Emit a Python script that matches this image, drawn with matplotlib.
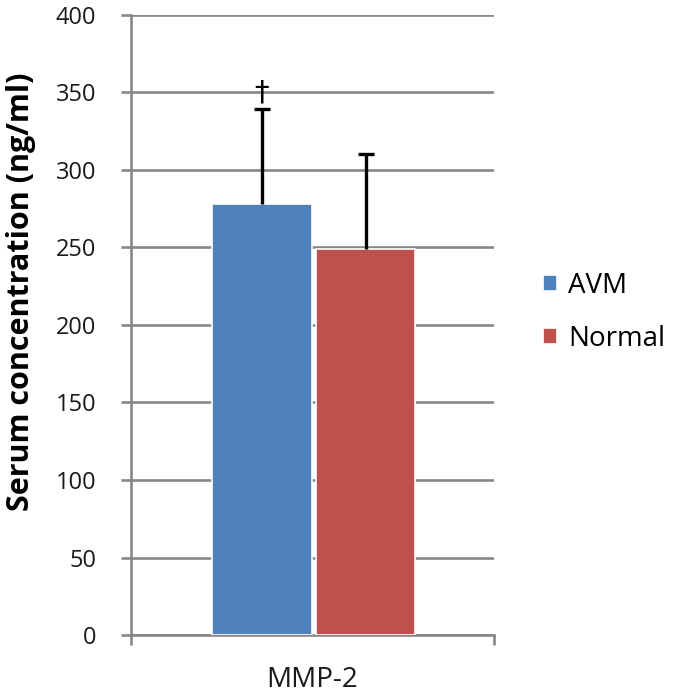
import matplotlib
matplotlib.use("Agg")
import matplotlib.pyplot as plt
import numpy as np

categories = ["MMP-2"]
series_names = ["AVM", "Normal"]
means = [278, 249]
errors = [61, 61]
colors = ["#4F81BD", "#C0504D"]
yticks = [0, 50, 100, 150, 200, 250, 300, 350, 400]
marker_symbol = "\u2020"

plt.rcParams['font.family'] = ['Open Sans', 'DejaVu Sans']

fig = plt.figure(figsize=(6.75, 6.96), dpi=100)
ax = fig.add_axes([0.194, 0.0876, 0.538, 0.891])

grid_c = "#878787"
offsets = [-0.14, 0.146]
width = 0.275
handles = []
for i, (name, m, e, c) in enumerate(zip(series_names, means, errors, colors)):
    b = ax.bar(offsets[i], m, width=width, color=c, edgecolor="white", linewidth=1.2,
               zorder=3, label=name)
    eb = ax.errorbar(offsets[i], m, yerr=[[0], [e]], fmt="none", ecolor="black",
                     elinewidth=2.4, capsize=5.5, capthick=2.4, zorder=4)
    for cap in eb[1]:
        if abs(float(np.asarray(cap.get_ydata())[0]) - m) < 1e-9:
            cap.set_visible(False)
    handles.append(b)

ax.text(offsets[0], means[0] + errors[0] + 11, marker_symbol, ha="center", va="center",
        fontsize=21, color="black", zorder=5, family="DejaVu Sans")

ax.set_ylim(0, 400)
ax.set_xlim(-0.5, 0.5)
ax.set_yticks(yticks)
ax.set_yticklabels([str(v) for v in yticks], fontsize=17, color="#1a1a1a")
ax.yaxis.grid(True, color=grid_c, linewidth=1.9, zorder=0)
ax.set_axisbelow(True)

ax.set_xticks([0])
ax.set_xticklabels(categories, fontsize=20, color="#1a1a1a")
ax.set_xticks([-0.5, 0.5], minor=True)
ax.tick_params(axis="x", which="major", length=0, pad=22)
ax.tick_params(axis="x", which="minor", length=7, width=1.9, color=grid_c, direction="out")
ax.tick_params(axis="y", length=7, width=1.9, color=grid_c, direction="out", pad=18)

for s in ["top", "right"]:
    ax.spines[s].set_visible(False)
ax.spines["left"].set_color(grid_c)
ax.spines["left"].set_linewidth(1.9)
ax.spines["bottom"].set_color(grid_c)
ax.spines["bottom"].set_linewidth(1.9)

fig.text(21 / 675, 1 - 292 / 696, "Serum concentration (ng/ml)", rotation=90,
         ha="center", va="center", fontsize=22, fontweight="bold", color="black")

fig.legend(handles=handles, labels=series_names, loc="center left",
           bbox_to_anchor=(0.768, 0.551), frameon=False, fontsize=20,
           handlelength=0.5, handleheight=0.5, handletextpad=0.4, labelspacing=0.9)

fig.savefig("out.png", dpi=100)
